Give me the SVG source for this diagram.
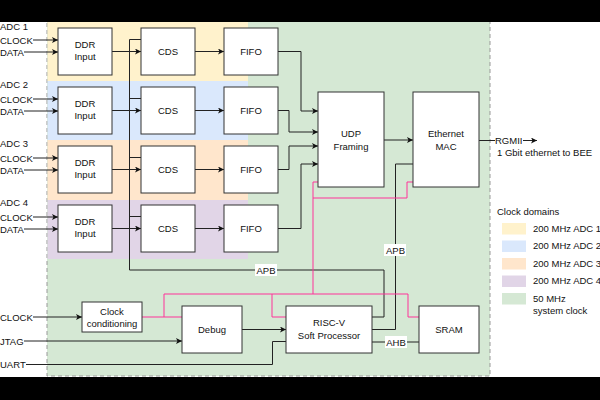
<svg xmlns="http://www.w3.org/2000/svg" width="600" height="400" viewBox="0 0 600 400">
<defs>
<style>
text{font-family:"Liberation Sans",Arial,sans-serif;font-size:9.5px;fill:#111}
.c{text-anchor:middle}
.box{fill:#fff;stroke:#333;stroke-width:1}
.ln{fill:none;stroke:#222;stroke-width:1}
.pk{fill:none;stroke:#ff3399;stroke-width:1}
.lb{fill:#fff}
</style>
<marker id="ah" markerWidth="7" markerHeight="6" refX="6" refY="3" orient="auto" markerUnits="userSpaceOnUse">
<path d="M0,0 L6,3 L0,6 L1.5,3 Z" fill="#111"/>
</marker>
</defs>
<rect x="0" y="0" width="600" height="400" fill="#fff"/>
<g id="domains">
<rect x="47" y="15" width="443" height="361" fill="#d5e8d4" stroke="#999" stroke-dasharray="4 3"/>
<rect x="47.5" y="15" width="200.5" height="66" fill="#fff2cc"/>
<rect x="47.5" y="81" width="200.5" height="59" fill="#dae8fc"/>
<rect x="47.5" y="140" width="200.5" height="60" fill="#ffe6cc"/>
<rect x="47.5" y="200" width="200.5" height="59" fill="#e1d5e7"/>
</g>
<g id="connectors">
<!-- ADC inputs -->
<path class="ln" marker-end="url(#ah)" d="M33,40 H58"/>
<path class="ln" marker-end="url(#ah)" d="M24,52 H58"/>
<path class="ln" marker-end="url(#ah)" d="M33,99 H58"/>
<path class="ln" marker-end="url(#ah)" d="M24,111 H58"/>
<path class="ln" marker-end="url(#ah)" d="M33,158 H58"/>
<path class="ln" marker-end="url(#ah)" d="M24,170 H58"/>
<path class="ln" marker-end="url(#ah)" d="M33,217 H58"/>
<path class="ln" marker-end="url(#ah)" d="M24,229 H58"/>
<!-- DDR to CDS, CDS to FIFO -->
<path class="ln" marker-end="url(#ah)" d="M112,51.5 H141"/>
<path class="ln" marker-end="url(#ah)" d="M195,51.5 H224"/>
<path class="ln" marker-end="url(#ah)" d="M112,110.5 H141"/>
<path class="ln" marker-end="url(#ah)" d="M195,110.5 H224"/>
<path class="ln" marker-end="url(#ah)" d="M112,169.5 H141"/>
<path class="ln" marker-end="url(#ah)" d="M195,169.5 H224"/>
<path class="ln" marker-end="url(#ah)" d="M112,228.5 H141"/>
<path class="ln" marker-end="url(#ah)" d="M195,228.5 H224"/>
<!-- FIFO to UDP -->
<path class="ln" marker-end="url(#ah)" d="M278,51.5 H301 V111 H318"/>
<path class="ln" marker-end="url(#ah)" d="M278,110.5 H289 V132 H318"/>
<path class="ln" marker-end="url(#ah)" d="M278,169.5 H289 V146 H318"/>
<path class="ln" marker-end="url(#ah)" d="M278,228.5 H301 V164 H318"/>
<!-- UDP to MAC, MAC to RGMII -->
<path class="ln" marker-end="url(#ah)" d="M384,140 H413"/>
<path class="ln" d="M479,140.5 H495"/>
<path class="ln" marker-end="url(#ah)" d="M523,140.5 H537"/>
<!-- APB bus to CDS -->
<path class="ln" d="M372,317 H384 V270 H129.5 V39.5 H141"/>
<path class="ln" d="M129.5,98.5 H141 M129.5,157.5 H141 M129.5,216.5 H141"/>
<!-- APB to MAC -->
<path class="ln" d="M372,329.5 H395.5 V164 H413"/>
<!-- AHB -->
<path class="ln" d="M372,342 H419"/>
<!-- Clock, JTAG, UART -->
<path class="ln" marker-end="url(#ah)" d="M33,317 H82"/>
<path class="ln" marker-end="url(#ah)" d="M24,341 H182"/>
<path class="ln" d="M26,364.5 H272.5 V341.5 H286"/>
<path class="ln" marker-end="url(#ah)" d="M242,329.5 H286"/>
<!-- clock distribution -->
<path class="pk" d="M142,317 H182"/>
<path class="pk" d="M164,317 V294 H408 V317 H419"/>
<path class="pk" d="M272,294 V317 H286"/>
<path class="pk" d="M318,182 H313 V294"/>
<path class="pk" d="M413,182 H407 V198 H313"/>
<!-- labels -->
<rect class="lb" x="255" y="264" width="22" height="12"/>
<text class="c" x="266" y="273.5">APB</text>
<rect class="lb" x="384" y="244" width="22" height="12"/>
<text class="c" x="395.5" y="253.5">APB</text>
<rect class="lb" x="385" y="336" width="22" height="12"/>
<text class="c" x="396" y="345.5">AHB</text>
<text x="495" y="144">RGMII</text>
<text x="497" y="156">1 Gbit ethernet to BEE</text>
</g>
<g id="adc1">
<text x="0" y="30">ADC 1</text><text x="0" y="43.5">CLOCK</text><text x="0" y="55.5">DATA</text>
</g>
<g id="adc2">
<text x="0" y="88">ADC 2</text><text x="0" y="102.5">CLOCK</text><text x="0" y="114.5">DATA</text>
</g>
<g id="adc3">
<text x="0" y="147">ADC 3</text><text x="0" y="161.5">CLOCK</text><text x="0" y="173.5">DATA</text>
</g>
<g id="adc4">
<text x="0" y="206">ADC 4</text><text x="0" y="220.5">CLOCK</text><text x="0" y="232.5">DATA</text>
</g>
<g id="ddr1"><rect class="box" x="58" y="28" width="54" height="47"/><text class="c" x="85" y="48">DDR</text><text class="c" x="85" y="60">Input</text></g>
<g id="ddr2"><rect class="box" x="58" y="87" width="54" height="47"/><text class="c" x="85" y="107">DDR</text><text class="c" x="85" y="119">Input</text></g>
<g id="ddr3"><rect class="box" x="58" y="146" width="54" height="47"/><text class="c" x="85" y="166">DDR</text><text class="c" x="85" y="178">Input</text></g>
<g id="ddr4"><rect class="box" x="58" y="205" width="54" height="47"/><text class="c" x="85" y="225">DDR</text><text class="c" x="85" y="237">Input</text></g>
<g id="cds1"><rect class="box" x="141" y="28" width="54" height="47"/><text class="c" x="168" y="55">CDS</text></g>
<g id="cds2"><rect class="box" x="141" y="87" width="54" height="47"/><text class="c" x="168" y="114">CDS</text></g>
<g id="cds3"><rect class="box" x="141" y="146" width="54" height="47"/><text class="c" x="168" y="173">CDS</text></g>
<g id="cds4"><rect class="box" x="141" y="205" width="54" height="47"/><text class="c" x="168" y="232">CDS</text></g>
<g id="fifo1"><rect class="box" x="224" y="28" width="54" height="47"/><text class="c" x="251" y="55">FIFO</text></g>
<g id="fifo2"><rect class="box" x="224" y="87" width="54" height="47"/><text class="c" x="251" y="114">FIFO</text></g>
<g id="fifo3"><rect class="box" x="224" y="146" width="54" height="47"/><text class="c" x="251" y="173">FIFO</text></g>
<g id="fifo4"><rect class="box" x="224" y="205" width="54" height="47"/><text class="c" x="251" y="232">FIFO</text></g>
<g id="udp"><rect class="box" x="318" y="92" width="66" height="95"/><text class="c" x="351" y="137">UDP</text><text class="c" x="351" y="150">Framing</text></g>
<g id="mac"><rect class="box" x="413" y="92" width="66" height="95"/><text class="c" x="446" y="137">Ethernet</text><text class="c" x="446" y="150">MAC</text></g>
<g id="clockcond"><rect class="box" x="82" y="302" width="60" height="30"/><text class="c" x="112" y="315">Clock</text><text class="c" x="112" y="327">conditioning</text></g>
<g id="debug"><rect class="box" x="182" y="306" width="60" height="47"/><text class="c" x="212" y="333">Debug</text></g>
<g id="riscv"><rect class="box" x="286" y="306" width="86" height="47"/><text class="c" x="329" y="326">RISC-V</text><text class="c" x="329" y="338.5">Soft Processor</text></g>
<g id="sram"><rect class="box" x="419" y="306" width="60" height="47"/><text class="c" x="449" y="332.5">SRAM</text></g>
<g id="inputs">
<text x="0" y="320.5">CLOCK</text>
<text x="0" y="344.5">JTAG</text>
<text x="0" y="368">UART</text>
</g>
<g id="legend">
<text x="497" y="214.5">Clock domains</text>
<rect x="502" y="223" width="24" height="11.5" fill="#fff2cc"/>
<text x="533" y="231.5">200 MHz ADC 1</text>
<rect x="502" y="240.5" width="24" height="11.5" fill="#dae8fc"/>
<text x="533" y="249">200 MHz ADC 2</text>
<rect x="502" y="258" width="24" height="11.5" fill="#ffe6cc"/>
<text x="533" y="266.5">200 MHz ADC 3</text>
<rect x="502" y="275.5" width="24" height="11.5" fill="#e1d5e7"/>
<text x="533" y="284">200 MHz ADC 4</text>
<rect x="502" y="293" width="24" height="11.5" fill="#d5e8d4"/>
<text x="533" y="302">50 MHz</text>
<text x="533" y="314">system clock</text>
</g>
<rect x="0" y="0" width="600" height="22" fill="#000"/>
<rect x="0" y="377" width="600" height="23" fill="#000"/>
</svg>
